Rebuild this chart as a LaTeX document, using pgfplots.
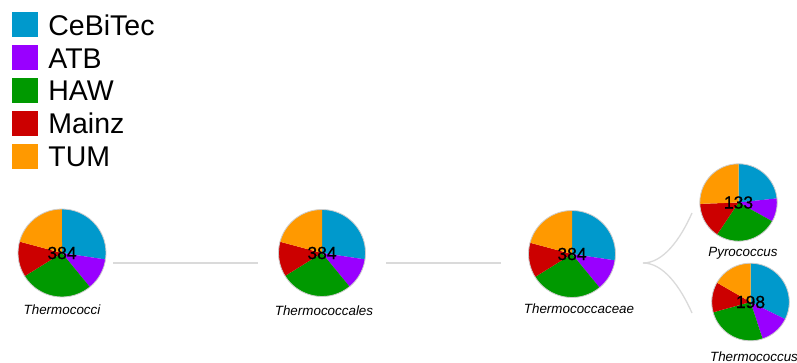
\documentclass[border=0pt]{standalone}
\usepackage{pgfplots}
\usepackage{pgfplotstable}
\pgfplotsset{compat=1.18}
\usepackage{fontspec}
\setmainfont{Liberation Sans}
\newfontfamily\numfont{Liberation Sans}[FakeBold=0.7]

\definecolor{pie0}{RGB}{0,153,204}
\definecolor{pie1}{RGB}{153,0,255}
\definecolor{pie2}{RGB}{0,153,0}
\definecolor{pie3}{RGB}{204,0,0}
\definecolor{pie4}{RGB}{255,153,0}
\definecolor{linkcol}{RGB}{218,218,218}
\definecolor{piebord}{RGB}{205,205,205}

% counts per group, in order CeBiTec, ATB, HAW, Mainz, TUM
\pgfplotstableread{
group count
CeBiTec 105
ATB 45
HAW 104
Mainz 50
TUM 80
}\tabThermococci
\pgfplotstableread{
group count
CeBiTec 105
ATB 45
HAW 104
Mainz 50
TUM 80
}\tabThermococcales
\pgfplotstableread{
group count
CeBiTec 105
ATB 45
HAW 104
Mainz 50
TUM 80
}\tabThermococcaceae
\pgfplotstableread{
group count
CeBiTec 31
ATB 13
HAW 35
Mainz 20
TUM 34
}\tabPyrococcus
\pgfplotstableread{
group count
CeBiTec 64
ATB 25
HAW 51
Mainz 25
TUM 33
}\tabThermococcus

% #1 table, #2 cx, #3 cy, #4 radius
\newcommand\drawpie[4]{%
  \pgfplotsextra{%
    \gdef\pietotal{0}%
    \pgfplotstableforeachcolumnelement{count}\of#1\as\val{%
      \pgfmathparse{\pietotal+\val}\global\let\pietotal\pgfmathresult}%
    \gdef\piestart{90}%
    \pgfplotstableforeachcolumnelement{count}\of#1\as\val{%
      \pgfmathparse{\piestart-360*(\val/\pietotal)}\global\let\pieend\pgfmathresult
      \fill[pie\pgfplotstablerow] (axis cs:#2,#3) -- ++(\piestart:#4pt)
        arc[start angle=\piestart, end angle=\pieend, radius=#4pt] -- cycle;
      \global\let\piestart\pieend}%
    \draw[piebord, line width=0.8pt] (axis cs:#2,#3) circle[radius=#4pt];
    \pgfmathtruncatemacro\pietot{\pietotal}%
    \node[font=\numfont\fontsize{17.5}{18}\selectfont, inner sep=0pt] at (axis cs:#2,#3) {\pietot};
  }}

\begin{document}
\begin{tikzpicture}
\begin{axis}[
  name=ax,
  width=797pt, height=363pt, scale only axis,
  xmin=0, xmax=797, ymin=0, ymax=363, y dir=reverse,
  hide axis, clip=false,
  legend image code/.code={\fill[#1] (0pt,-1pt) rectangle (25pt,23pt);},
  legend style={at={(axis cs:12,12)}, anchor=north west, draw=none, fill=none,
    inner sep=0pt, outer sep=0pt, row sep=8.5pt, column sep=11pt,
    font=\fontsize{28.5}{30}\selectfont,
    nodes={inner sep=0pt, text height=0pt, text depth=0pt}},
  legend cell align=left,
]
\addlegendimage{pie0}
\addlegendimage{pie1}
\addlegendimage{pie2}
\addlegendimage{pie3}
\addlegendimage{pie4}
\legend{CeBiTec, ATB, HAW, Mainz, TUM}

% links
\addplot[linkcol, line width=1.3pt, forget plot] coordinates {(113,263) (258,263)};
\addplot[linkcol, line width=1.3pt, forget plot] coordinates {(386,263) (501,263)};
\draw[linkcol, line width=1.3pt] (axis cs:643,263) .. controls (axis cs:663,263) and (axis cs:680,240) .. (axis cs:692,213);
\draw[linkcol, line width=1.3pt] (axis cs:643,263) .. controls (axis cs:663,263) and (axis cs:680,286) .. (axis cs:692,313);

\drawpie{\tabThermococci}{62}{253}{44}
\drawpie{\tabThermococcales}{322}{253}{43.5}
\drawpie{\tabThermococcaceae}{572}{254}{43.5}
\drawpie{\tabPyrococcus}{738.5}{202.5}{38.7}
\drawpie{\tabThermococcus}{750.5}{302}{38.8}

\pgfplotsextra{%
\node[font=\fontsize{13.4}{14}\selectfont\itshape, anchor=base] at (axis cs:62,314) {Thermococci};
\node[font=\fontsize{13.4}{14}\selectfont\itshape, anchor=base] at (axis cs:324,315) {Thermococcales};
\node[font=\fontsize{13.4}{14}\selectfont\itshape, anchor=base] at (axis cs:579,313.5) {Thermococcaceae};
\node[font=\fontsize{13.4}{14}\selectfont\itshape, anchor=base] at (axis cs:743,256.5) {Pyrococcus};
\node[font=\fontsize{13.4}{14}\selectfont\itshape, anchor=base] at (axis cs:754,361) {Thermococcus};
}
\end{axis}
\pgfresetboundingbox
\path (ax.south west) rectangle (ax.north east);
\end{tikzpicture}
\end{document}
